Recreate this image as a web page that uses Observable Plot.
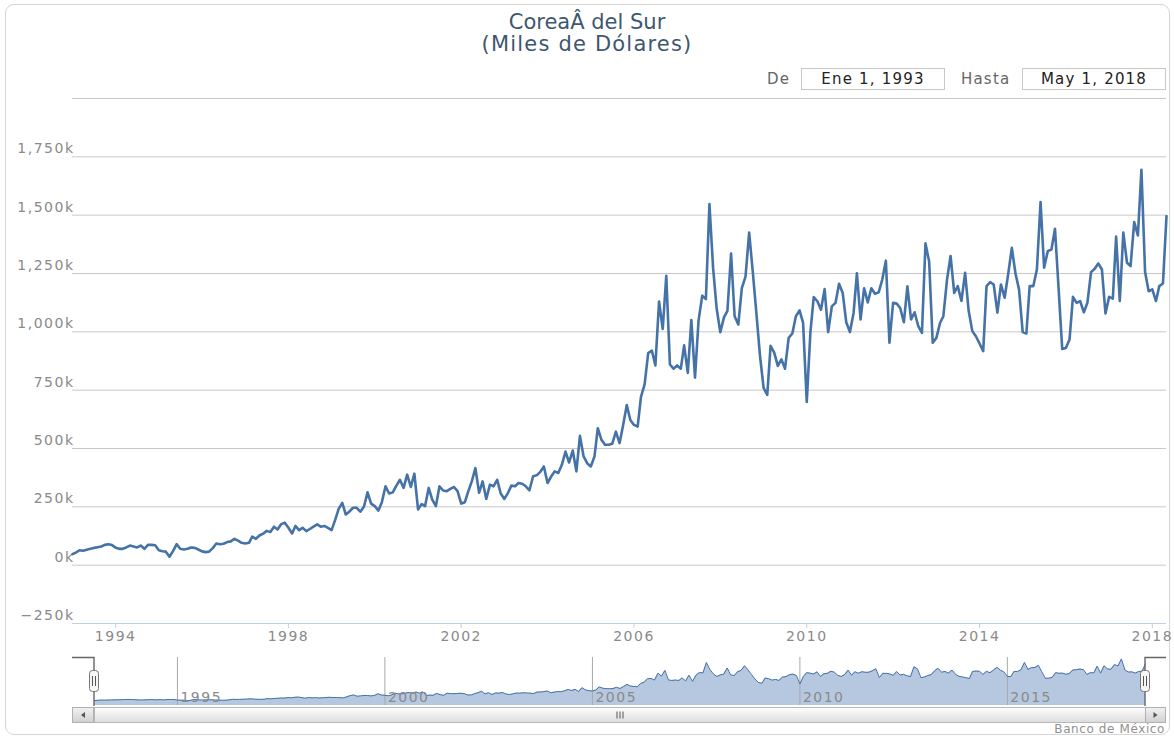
<!DOCTYPE html>
<html>
<head>
<meta charset="utf-8">
<script src="https://cdn.jsdelivr.net/npm/d3@7"></script>
<script src="https://cdn.jsdelivr.net/npm/@observablehq/plot@0.6"></script>
<style>
  body { margin: 0; background: #fff; font-family: "DejaVu Sans", sans-serif; }
  #wrap { position: relative; width: 1174px; height: 736px; overflow: hidden; background: #fff; }
  #frame { position: absolute; left: 5px; top: 4px; width: 1165px; height: 731px; border: 1px solid #d6d6d6; border-radius: 9px; box-sizing: border-box; }
  .ttl { position: absolute; left: 0; width: 1174px; text-align: center; color: #3E576F; font-size: 21px; line-height: 24px; white-space: nowrap; }
  .rs-label { position: absolute; top: 68px; height: 22px; line-height: 22px; font-size: 15px; color: #666; letter-spacing: 1.2px; }
  .rs-box { position: absolute; top: 68px; height: 22px; line-height: 21px; width: 144px; border: 1px solid #c8c8c8; box-sizing: border-box; text-align: center; font-size: 15px; color: #222; letter-spacing: 1.2px; background: #fff; }
  #main { position: absolute; left: 0; top: 95px; }
  #nav { position: absolute; left: 0; top: 648px; }
</style>
</head>
<body>
<div id="wrap">
  <div id="frame"></div>
  <div class="ttl" style="top:10px;">CoreaÂ del Sur</div>
  <div class="ttl" style="top:32px;letter-spacing:1.2px;">(Miles de Dólares)</div>
  <div class="rs-label" style="left:767px;">De</div>
  <div class="rs-box" style="left:801px;">Ene 1, 1993</div>
  <div class="rs-label" style="left:961px;">Hasta</div>
  <div class="rs-box" style="left:1022px;">May 1, 2018</div>
  <div id="main"></div>
  <div id="nav"></div>
</div>
<script>
// ---- Data (miles de dólares, en miles "k"), mensual Ene 1993 – May 2018 ----
const serieInicio = [1993, 0];   // año, mes (0 = enero)
const serieFin = [2018, 4];      // mayo 2018
const valores = [
  47, 55, 64, 62, 66, 70, 74, 77, 80, 87,
  90, 86, 75, 70, 70, 76, 84, 80, 76, 84,
  70, 87, 87, 85, 64, 60, 58, 36, 60, 90,
  70, 67, 70, 76, 74, 67, 59, 56, 58, 73,
  93, 90, 92, 99, 102, 113, 105, 96, 93, 96,
  122, 113, 127, 135, 147, 142, 165, 153, 176, 182,
  160, 136, 168, 150, 160, 146, 155, 165, 175, 165,
  168, 160, 150, 195, 240, 267, 217, 230, 246, 246,
  229, 250, 312, 264, 253, 234, 270, 338, 307, 312,
  340, 366, 331, 388, 335, 392, 239, 262, 253, 331,
  281, 253, 338, 320, 317, 327, 335, 317, 264, 270,
  315, 360, 416, 310, 359, 284, 345, 338, 366, 307,
  284, 310, 341, 338, 352, 349, 338, 321, 381, 385,
  400, 423, 352, 380, 402, 395, 430, 487, 440, 491,
  402, 554, 466, 437, 423, 466, 587, 537, 516, 516,
  520, 572, 523, 600, 686, 622, 601, 594, 721, 775,
  909, 920, 856, 1130, 1012, 1240, 860, 842, 856, 842,
  942, 824, 1051, 804, 1048, 1155, 1140, 1548, 1273, 1100,
  998, 1062, 1090, 1335, 1067, 1031, 1187, 1237, 1425, 1260,
  1080, 900, 760, 730, 940, 911, 854, 882, 842, 974,
  993, 1067, 1092, 1038, 700, 1000, 1149, 1131, 1095, 1183,
  999, 1109, 1124, 1206, 1166, 1041, 999, 1081, 1251, 1053,
  1187, 1126, 1187, 1163, 1169, 1223, 1305, 953, 1124, 1121,
  1102, 1041, 1195, 1053, 1084, 1024, 996, 1379, 1301, 953,
  974, 1038, 1067, 1223, 1325, 1167, 1196, 1132, 1253, 1090,
  1003, 981, 950, 917, 1196, 1213, 1203, 1082, 1203, 1146,
  1250, 1360, 1250, 1182, 999, 993, 1196, 1196, 1267, 1556,
  1275, 1346, 1353, 1442, 1182, 927, 931, 967, 1150, 1124,
  1132, 1084, 1124, 1256, 1270, 1293, 1267, 1079, 1150, 1142,
  1408, 1132, 1425, 1296, 1282, 1470, 1413, 1694, 1256, 1174,
  1182, 1132, 1196, 1207, 1496
];
const yTicks = [-250, 0, 250, 500, 750, 1000, 1250, 1500, 1750];
const yMax = 2000;
const xTickYears = [1994, 1998, 2002, 2006, 2010, 2014, 2018];
const navTickYears = [1995, 2000, 2005, 2010, 2015];
const navYDomain = [-150, 1750];

// ---- Build table ----
const t0 = new Date(Date.UTC(serieInicio[0], serieInicio[1], 1));
const t1 = new Date(Date.UTC(serieFin[0], serieFin[1], 1));
const fechas = d3.utcMonth.range(t0, d3.utcMonth.offset(t1, 1));
const data = fechas.map((d, i) => ({date: d, v: valores[i]}));
const yearDate = y => new Date(Date.UTC(y, 0, 1));
const fmtK = d => d3.format(",")(d) + "k";

const blue = "#4572A7";

// ---- Main chart ----
const main = Plot.plot({
  width: 1174,
  height: 553,
  marginLeft: 72,
  marginRight: 8,
  marginTop: 3,
  marginBottom: 25,
  style: "font-family:'DejaVu Sans',sans-serif;letter-spacing:1.5px;overflow:visible;background:transparent;",
  x: {type: "utc", domain: [t0, t1], axis: null},
  y: {domain: [yTicks[0], yMax], axis: null},
  marks: [
    Plot.gridY([...yTicks, yMax], {stroke: "#C8C8C8", strokeOpacity: 1}),
    Plot.axisY(yTicks, {anchor: "left", tickSize: 0, tickPadding: 0, dx: 2, dy: -8,
      tickFormat: fmtK, fill: "#8a8a8a", fontSize: 14, label: null}),
    Plot.ruleY([yTicks[0]], {stroke: "#C0D0E0"}),
    Plot.axisX(xTickYears.map(yearDate), {anchor: "bottom", tickSize: 5, tickPadding: 3,
      stroke: "#C0D0E0", strokeOpacity: 1, fill: "#8a8a8a", fontSize: 14,
      tickFormat: d3.utcFormat("%Y"), label: null}),
    Plot.lineY(data, {x: "date", y: "v", stroke: blue, strokeWidth: 2.6,
      strokeLinejoin: "round", strokeLinecap: "round"})
  ]
});
document.getElementById("main").appendChild(main);

// ---- Navigator ----
const nav = Plot.plot({
  width: 1174,
  height: 88,
  marginLeft: 94,
  marginRight: 29,
  marginTop: 9,
  marginBottom: 31,
  style: "font-family:'DejaVu Sans',sans-serif;letter-spacing:1.5px;overflow:visible;background:transparent;",
  x: {type: "utc", domain: [t0, t1], axis: null},
  y: {domain: navYDomain, axis: null},
  marks: [
    Plot.areaY(data, {x: "date", y1: () => navYDomain[0], y2: "v", fill: "#B6C8DF"}),
    Plot.ruleX(navTickYears.map(yearDate), {stroke: "#a8a8a8", strokeWidth: 1}),
    Plot.lineY(data, {x: "date", y: "v", stroke: blue, strokeWidth: 1}),
    Plot.text(navTickYears.map(yearDate), {x: d => d, text: d => String(d.getUTCFullYear()),
      frameAnchor: "bottom", textAnchor: "start", dx: 3, dy: -4, fill: "#8a8a8a", fontSize: 14})
  ]
});
document.getElementById("nav").appendChild(nav);

// ---- Navigator decorations: outline, handles, scrollbar, credits ----
(function () {
  const svg = d3.select(nav);
  const xs = nav.scale("x");
  const L = Math.round(xs.apply(t0)), R = Math.round(xs.apply(t1));
  const left = 72, right = 1166, top = 9, bottom = 58;
  const defs = svg.append("defs");
  const g1 = defs.append("linearGradient").attr("id", "sbg").attr("x1", 0).attr("y1", 0).attr("x2", 0).attr("y2", 1);
  g1.append("stop").attr("offset", "0%").attr("stop-color", "#ffffff");
  g1.append("stop").attr("offset", "100%").attr("stop-color", "#dcdcdc");
  const g2 = defs.append("linearGradient").attr("id", "sbb").attr("x1", 0).attr("y1", 0).attr("x2", 0).attr("y2", 1);
  g2.append("stop").attr("offset", "0%").attr("stop-color", "#f2f2f2");
  g2.append("stop").attr("offset", "100%").attr("stop-color", "#d0d0d0");

  // outline
  svg.append("path").attr("d", `M${left},${top + 0.5}H${L}V${bottom}`)
    .attr("fill", "none").attr("stroke", "#666").attr("stroke-width", 1.4);
  svg.append("path").attr("d", `M${right},${top + 0.5}H${R}V${bottom}`)
    .attr("fill", "none").attr("stroke", "#666").attr("stroke-width", 1.4);

  // scrollbar
  const sy = 59, sh = 15;
  svg.append("rect").attr("x", left + 0.5).attr("y", sy + 0.5).attr("width", right - left - 1).attr("height", sh)
    .attr("fill", "#eeeeee").attr("stroke", "#bbbbbb");
  svg.append("rect").attr("x", L + 0.5).attr("y", sy + 0.5).attr("width", R - L).attr("height", sh)
    .attr("fill", "url(#sbg)").attr("stroke", "#b8b8b8");
  [[left, L], [R, right]].forEach(([a, b]) => {
    svg.append("rect").attr("x", a + 0.5).attr("y", sy + 0.5).attr("width", b - a - 1).attr("height", sh)
      .attr("fill", "url(#sbb)").attr("stroke", "#b0b0b0");
  });
  const cy = sy + sh / 2 + 0.5;
  svg.append("path").attr("d", `M${(left + L) / 2 + 2},${cy - 3}L${(left + L) / 2 - 2},${cy}L${(left + L) / 2 + 2},${cy + 3}Z`).attr("fill", "#555");
  svg.append("path").attr("d", `M${(R + right) / 2 - 2},${cy - 3}L${(R + right) / 2 + 2},${cy}L${(R + right) / 2 - 2},${cy + 3}Z`).attr("fill", "#555");
  const gx = (L + R) / 2;
  [-3, 0, 3].forEach(o => svg.append("line").attr("x1", gx + o + 0.5).attr("x2", gx + o + 0.5)
    .attr("y1", cy - 3.5).attr("y2", cy + 3.5).attr("stroke", "#555").attr("stroke-width", 1));

  // handles
  [L, R].forEach(cx => {
    svg.append("rect").attr("x", cx - 4.5).attr("y", 22.5).attr("width", 9).attr("height", 21).attr("rx", 3)
      .attr("fill", "#f6f6f6").attr("stroke", "#777").attr("stroke-width", 1);
    [-1.5, 1.5].forEach(o => svg.append("line").attr("x1", cx + o).attr("x2", cx + o)
      .attr("y1", 28).attr("y2", 38).attr("stroke", "#555").attr("stroke-width", 1));
  });

  // credits
  svg.append("text").attr("x", 1165).attr("y", 85).attr("text-anchor", "end")
    .attr("fill", "#909090").attr("font-size", 12).style("letter-spacing", "0.6px")
    .text("Banco de México");
})();
</script>
</body>
</html>
